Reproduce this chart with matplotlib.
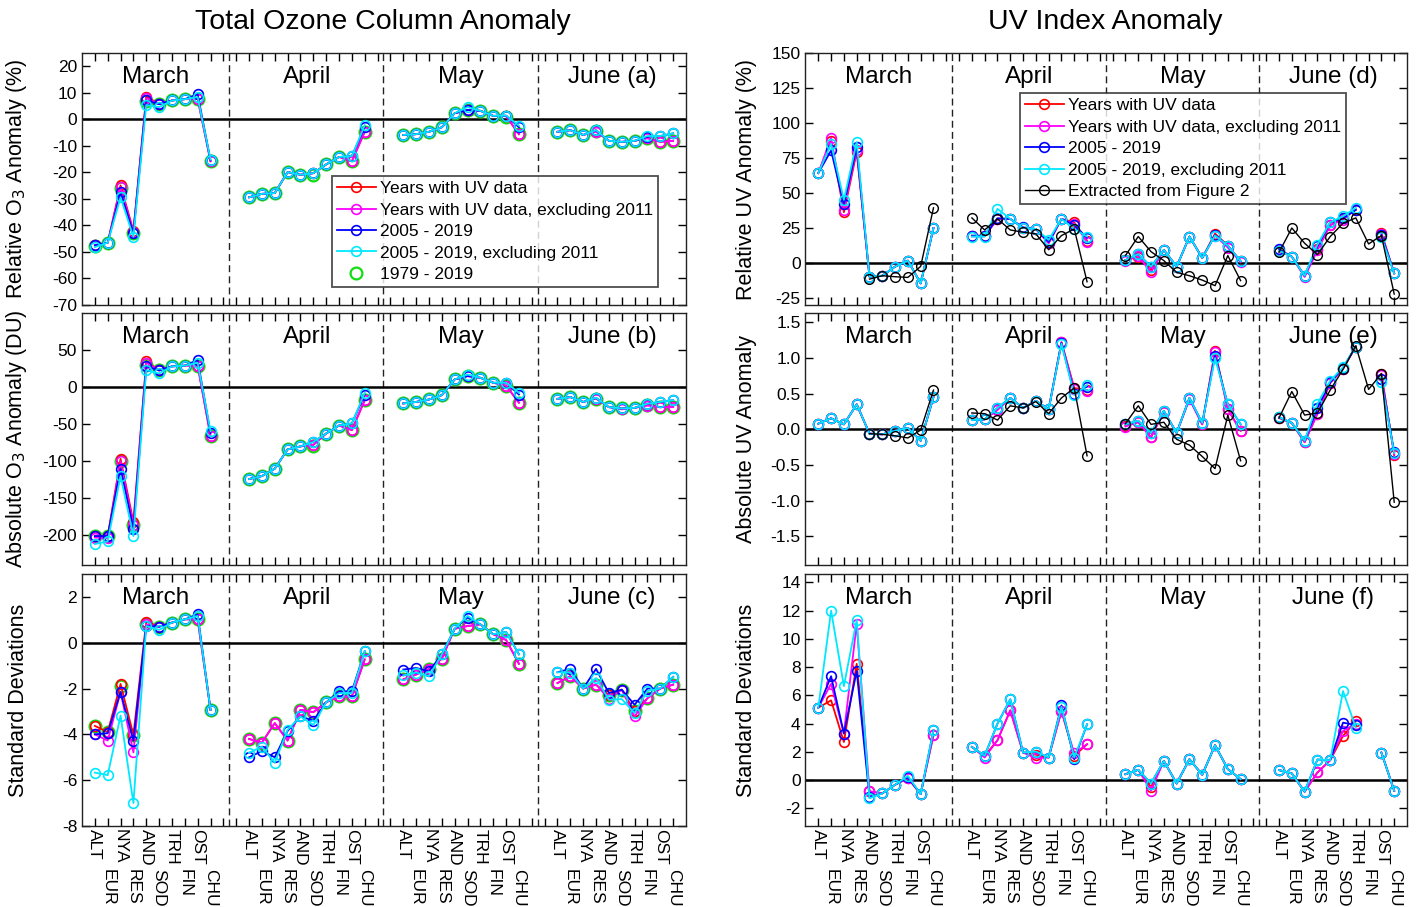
import numpy as np
import matplotlib
matplotlib.use("Agg")
import matplotlib.pyplot as plt
from matplotlib.ticker import FormatStrFormatter, FixedLocator
from matplotlib.lines import Line2D

plt.rcParams['font.family'] = ['Liberation Sans', 'DejaVu Sans']
plt.rcParams['axes.unicode_minus'] = False

nan = np.nan

stations = ["ALT", "EUR", "NYA", "RES", "AND", "SOD", "TRH", "FIN", "OST", "CHU"]
months = ["March", "April", "May", "June"]

legend_oz = ["Years with UV data", "Years with UV data, excluding 2011",
             "2005 - 2019", "2005 - 2019, excluding 2011", "1979 - 2019"]
legend_uv = ["Years with UV data", "Years with UV data, excluding 2011",
             "2005 - 2019", "2005 - 2019, excluding 2011", "Extracted from Figure 2"]

# ---- (a) relative ozone anomaly (%) ----
a_red = [-47.5, -46.5, -24.9, -42.0, 8.6, 5.7, 7.1, 7.6, 7.6, -15.8,
         -29.4, -28.1, -27.8, -19.9, -20.9, -20.3, -17.0, -14.2, -15.8, -4.7,
         -5.9, -5.6, -4.7, -3.0, 2.3, 3.5, 3.2, 1.3, 1.2, -5.6,
         -4.7, -4.1, -5.9, -4.4, -8.1, -8.5, -8.1, -7.0, -8.5, -8.1]
a_mag = [-47.5, -46.5, -25.6, -42.5, 8.0, 5.7, 7.1, 7.6, 7.8, -15.8,
         -29.4, -28.1, -27.8, -19.9, -20.9, -20.3, -17.0, -14.2, -15.8, -4.7,
         -5.9, -5.6, -4.7, -3.0, 2.3, 3.5, 3.2, 1.3, 1.2, -5.6,
         -4.7, -4.1, -5.9, -4.7, -8.1, -8.5, -8.1, -7.2, -8.5, -8.1]
a_blue = [-47.5, -46.5, -27.5, -43.0, 7.1, 5.7, 7.1, 7.6, 9.5, -15.5,
          -29.4, -28.1, -27.8, -19.9, -20.9, -20.3, -17.0, -14.2, -13.9, -3.0,
          -5.9, -5.6, -4.7, -3.0, 2.3, 3.5, 3.2, 1.3, 1.4, -3.0,
          -4.7, -4.1, -5.9, -4.1, -8.1, -8.5, -8.1, -6.6, -6.3, -5.3]
a_cyan = [-48.2, -46.5, -29.4, -44.3, 5.4, 4.6, 7.1, 7.6, 8.4, -15.2,
          -29.4, -28.1, -27.8, -19.9, -20.9, -20.3, -17.0, -14.2, -13.9, -2.2,
          -5.9, -5.6, -4.7, -3.0, 2.3, 4.6, 3.2, 1.3, 1.4, -2.4,
          -4.7, -4.1, -5.9, -4.1, -8.1, -8.5, -8.1, -6.3, -6.3, -5.3]
a_green = [-47.7, -46.5, -26.0, -43.0, 7.0, 5.8, 7.1, 7.6, 7.6, -15.8,
           -29.4, -28.1, -27.8, -19.9, -20.9, -20.9, -17.0, -14.2, -15.8, -4.7,
           -5.9, -5.6, -4.7, -3.0, 2.3, 3.5, 3.2, 1.3, 1.0, -5.6,
           -4.7, -4.1, -5.9, -4.4, -8.1, -8.5, -8.1, -7.0, -8.5, -8.1]

# ---- (b) absolute ozone anomaly (DU) ----
b_red = [-201, -201, -96.8, -182, 35, 22.5, 28, 29, 29, -66,
         -124, -120, -110, -84, -80, -78, -62.6, -51.8, -58, -17.6,
         -22, -20, -16.7, -10.8, 10.4, 14.9, 12.6, 5.9, 2, -21,
         -15.8, -13.5, -20, -15.5, -27, -28.8, -28, -23.5, -27, -27]
b_mag = [-203, -204, -100, -186, 33, 22.5, 28, 29, 29, -66,
         -124, -120, -110, -84, -80, -78, -62.6, -51.8, -58, -17.6,
         -22, -20, -16.7, -10.8, 10.4, 14.9, 12.6, 5.9, 2, -21,
         -15.8, -13.5, -20, -15.5, -27, -30, -28, -25, -27, -27]
b_blue = [-201, -201, -110, -191, 28, 22.5, 28, 29, 36.5, -62,
          -124, -120, -110, -84, -80, -74, -62.6, -51.8, -49, -10,
          -22, -20, -16.7, -10.8, 10.4, 14.9, 12.6, 5.9, 5.9, -10,
          -15.8, -13.5, -20, -14.4, -27, -28.8, -28, -22.5, -20, -17.6]
b_cyan = [-211.7, -208, -120, -201, 23, 18.5, 28, 29, 33, -59.5,
          -124, -120, -110, -84, -80, -74, -62.6, -51.8, -49, -7.7,
          -22, -20, -16.7, -10.8, 10.4, 17, 12.6, 5.9, 5.9, -7.7,
          -15.8, -13.5, -20, -14.4, -27, -28.8, -28, -22.5, -20, -17.6]
b_green = [-201, -201, -100, -186, 30, 22.5, 28, 29, 29, -66,
           -124, -120, -110, -84, -80, -80, -62.6, -51.8, -58, -17.6,
           -22, -20, -16.7, -10.8, 10.4, 14.9, 12.6, 5.9, 2, -21,
           -15.8, -13.5, -20, -15.5, -27, -28.8, -28, -23.5, -27, -27]

# ---- (c) ozone standard deviations ----
c_red = [-3.63, -3.9, -1.8, -4.03, 0.92, 0.70, 0.88, 1.02, 1.02, -2.93,
         -4.2, -4.36, -3.51, -4.27, -2.93, -3.03, -2.6, -2.34, -2.34, -0.73,
         -1.6, -1.39, -1.14, -0.70, 0.61, 0.73, 0.8, 0.37, 0.12, -0.92,
         -1.76, -1.46, -2.0, -1.83, -2.3, -2.05, -3.0, -2.42, -2.0, -1.83]
c_mag = [-4.0, -4.27, -2.15, -4.79, 0.8, 0.70, 0.88, 1.02, 1.02, -2.93,
         -4.2, -4.36, -3.51, -4.27, -2.93, -3.03, -2.6, -2.34, -2.34, -0.73,
         -1.6, -1.39, -1.14, -0.70, 0.61, 0.73, 0.8, 0.37, 0.12, -0.92,
         -1.76, -1.46, -2.0, -1.83, -2.45, -2.05, -3.22, -2.42, -2.0, -1.83]
c_blue = [-4.0, -3.95, -2.15, -4.27, 0.73, 0.70, 0.88, 1.02, 1.24, -2.93,
          -5.0, -4.73, -5.0, -3.85, -3.22, -3.4, -2.6, -2.12, -2.12, -0.37,
          -1.17, -1.1, -1.25, -0.51, 0.61, 1.1, 0.8, 0.37, 0.47, -0.51,
          -1.29, -1.14, -2.0, -1.14, -2.2, -2.05, -2.71, -2.0, -2.0, -1.49]
c_cyan = [-5.67, -5.78, -3.18, -7.0, 0.73, 0.56, 0.88, 1.02, 1.17, -2.93,
          -4.8, -4.54, -5.24, -3.8, -3.22, -3.59, -2.6, -2.2, -2.2, -0.37,
          -1.43, -1.3, -1.46, -0.51, 0.61, 1.17, 0.8, 0.37, 0.47, -0.51,
          -1.29, -1.3, -2.0, -1.54, -2.49, -2.46, -3.07, -2.1, -2.0, -1.49]
c_green = [-3.63, -3.9, -1.9, -4.03, 0.8, 0.70, 0.88, 1.02, 1.02, -2.93,
           -4.2, -4.36, -3.51, -4.27, -2.93, -3.03, -2.6, -2.34, -2.34, -0.73,
           -1.6, -1.39, -1.14, -0.70, 0.61, 0.73, 0.8, 0.37, 0.12, -0.92,
           -1.76, -1.46, -2.0, -1.83, -2.3, -2.05, -3.0, -2.42, -2.0, -1.83]

# ---- (d) relative UV anomaly (%) ----
d_red = [64.2, 87, 36.3, 79.2, -9.8, -9.1, -2.6, 1.7, -14.6, 25,
         19.5, 19.5, 31.5, 31.5, 25, 24.3, 14.5, 31.5, 29, 16,
         2.1, 4.5, -5, 9.3, -2.6, 18.9, 3.6, 21, 12.4, 1.2,
         8.8, 4.5, -9.1, 10, 27, 32, 38, nan, 21.5, -7.4]
d_mag = [64.2, 89.5, 38, 81, -9.8, -9.1, -2.6, 1.7, -14.6, 25,
         19, 19, 31.5, 31.5, 25, 24.3, 14, 31.5, 28, 15.3,
         1.5, 5, -6.7, 9.3, -2.6, 18.9, 3.6, 19.6, 11, 0.5,
         8.8, 4.5, -10, 9, 27, 31, 38.5, nan, 21, -7.4]
d_blue = [64.2, 80.4, 41.8, 82.8, -9.8, -9.1, -2.6, 1.7, -14.6, 25,
          19.5, 19.5, 32, 31.5, 25.5, 24.3, 15, 31.5, 27, 18,
          2.1, 6.4, -2.6, 9.3, -2.6, 18.9, 3.6, 20, 12.4, 1.2,
          10, 4.5, -9.1, 12, 29, 32, 38, nan, 20, -7.4]
d_cyan = [64.2, 85.2, 45.1, 86.4, -9.8, -9.1, -2.6, 1.7, -14.6, 25,
          18.9, 18.9, 38.7, 31.5, 25, 24.3, 16.5, 31.5, 24.3, 18.9,
          2.1, 6.4, -2.6, 9.3, -2.6, 18.9, 3.6, 19.6, 12.4, 1.2,
          8.8, 4.5, -9.1, 13.1, 29.1, 33.4, 39.4, nan, 18.4, -7.4]
d_black = [nan, nan, nan, nan, -11.5, -9.1, -9.8, -10.3, -2.4, 39.4,
           32.2, 23.6, 31.5, 23.6, 22, 20.8, 9.5, 19.6, 24.3, -13.4,
           5.3, 18.9, 8.1, 1.7, -6.7, -9.1, -12.2, -16.2, 5.3, -12.6,
           7.6, 25, 14.1, 6.0, 18.9, 28.4, 32.2, 13.6, 19.6, -22.2]

# ---- (e) absolute UV anomaly ----
e_red = [0.08, 0.155, 0.07, 0.35, -0.06, -0.07, -0.02, 0.02, -0.16, 0.45,
         0.13, 0.14, 0.28, 0.44, 0.30, 0.40, 0.28, 1.22, 0.58, 0.55,
         0.05, 0.10, -0.11, 0.25, -0.05, 0.44, 0.07, 1.10, 0.28, -0.02,
         0.16, 0.09, -0.18, 0.22, 0.65, 0.85, 1.16, nan, 0.78, -0.36]
e_mag = [0.08, 0.155, 0.07, 0.35, -0.06, -0.07, -0.02, 0.02, -0.16, 0.45,
         0.13, 0.14, 0.27, 0.44, 0.30, 0.40, 0.28, 1.22, 0.56, 0.54,
         0.04, 0.10, -0.11, 0.25, -0.05, 0.42, 0.07, 1.08, 0.28, -0.02,
         0.16, 0.09, -0.18, 0.22, 0.65, 0.85, 1.16, nan, 0.76, -0.35]
e_blue = [0.08, 0.155, 0.07, 0.35, -0.06, -0.07, -0.02, 0.02, -0.16, 0.45,
          0.13, 0.14, 0.30, 0.44, 0.30, 0.40, 0.28, 1.21, 0.50, 0.60,
          0.07, 0.12, -0.05, 0.26, -0.05, 0.44, 0.09, 1.03, 0.35, 0.07,
          0.17, 0.09, -0.16, 0.30, 0.66, 0.86, 1.16, nan, 0.70, -0.32]
e_cyan = [0.08, 0.155, 0.07, 0.35, -0.06, -0.07, -0.02, 0.02, -0.16, 0.45,
          0.13, 0.14, 0.30, 0.44, 0.30, 0.40, 0.28, 1.20, 0.48, 0.62,
          0.07, 0.12, -0.05, 0.26, -0.05, 0.44, 0.09, 1.0, 0.35, 0.07,
          0.17, 0.09, -0.16, 0.36, 0.68, 0.87, 1.16, nan, 0.67, -0.33]
e_black = [nan, nan, nan, nan, -0.06, -0.07, -0.09, -0.12, -0.01, 0.55,
           0.23, 0.22, 0.13, 0.33, 0.30, 0.39, 0.22, 0.44, 0.58, -0.37,
           0.08, 0.33, 0.07, 0.10, -0.14, -0.22, -0.38, -0.55, 0.20, -0.44,
           0.16, 0.53, 0.20, 0.23, 0.55, 0.84, 1.17, 0.56, 0.78, -1.02]

# ---- (f) UV standard deviations ----
f_red = [5.13, 5.65, 2.7, 8.24, -0.8, -0.94, -0.33, 0.14, -0.99, 3.2,
         2.35, 1.72, 2.82, 4.94, 1.95, 1.8, 1.6, 4.89, 1.72, 2.54,
         0.42, 0.73, -0.5, 1.36, -0.24, 1.48, 0.38, 2.47, 0.78, 0.07,
         0.71, 0.47, -0.82, 0.54, 1.41, 3.13, 4.19, nan, 1.95, -0.75]
f_mag = [5.13, 6.82, 3.3, 11.06, -0.8, -0.94, -0.33, 0.14, -0.99, 3.2,
         2.35, 1.6, 2.82, 4.94, 1.95, 1.55, 1.6, 4.89, 1.9, 2.54,
         0.42, 0.73, -0.75, 1.36, -0.24, 1.48, 0.38, 2.47, 0.78, 0.07,
         0.71, 0.47, -0.82, 0.54, 1.41, 3.48, 4.0, nan, 1.95, -0.75]
f_blue = [5.13, 7.36, 3.3, 7.72, -1.2, -0.94, -0.33, 0.2, -0.99, 3.53,
          2.35, 1.72, 4.0, 5.72, 1.95, 2.0, 1.6, 5.29, 1.48, 3.95,
          0.42, 0.73, -0.24, 1.36, -0.24, 1.48, 0.38, 2.47, 0.78, 0.07,
          0.71, 0.47, -0.82, 1.46, 1.41, 4.07, 3.9, nan, 1.95, -0.75]
f_cyan = [5.13, 12.0, 6.66, 11.36, -1.29, -0.94, -0.33, 0.3, -0.99, 3.53,
          2.35, 1.72, 4.0, 5.72, 1.95, 2.02, 1.6, 5.2, 1.6, 3.95,
          0.42, 0.73, -0.24, 1.36, -0.24, 1.48, 0.38, 2.47, 0.78, 0.07,
          0.71, 0.47, -0.82, 1.46, 1.41, 6.31, 3.72, nan, 1.95, -0.75]

# x layout: 12 slots per month, stations in slots 1..10
x_pos = [m * 12 + i + 1 for m in range(4) for i in range(10)]
month_centers = [5.75, 17.5, 29.5, 41.25]
separators = [11.45, 23.45, 35.45]

LW = 1.3


def draw_line(ax, x, y, color, lw=LW, ms=7, mew=1.2, zorder=3):
    # break the line at each month so months are not joined
    for m in range(4):
        xs = x[m * 10:(m + 1) * 10]
        ys = y[m * 10:(m + 1) * 10]
        ax.plot(xs, ys, color=color, lw=lw, marker='o', ms=ms, mfc='none',
                mec=color, mew=mew, zorder=zorder)


def draw_panel(ax, series, ylim, yticks, ylabel, tag, label_x, black=None,
               green=None, show_x=False, fmt=None):
    ax.set_xlim(0, 47)
    ax.set_ylim(*ylim)
    ax.axhline(0, color='k', lw=1.8, zorder=2)
    for s in separators:
        ax.axvline(s, color='#222222', lw=1.0, dashes=(5, 3), zorder=1)

    if green is not None:
        ax.plot(x_pos, green, ls='none', marker='o', ms=8.5, mfc='none',
                mec='#11dd11', mew=1.6, zorder=2.5)
    for vals, col in series:
        draw_line(ax, x_pos, vals, col)
    if black is not None:
        draw_line(ax, x_pos, black, 'k', lw=1.0, ms=7, mew=1.0, zorder=4)

    ax.set_yticks(yticks)
    if fmt:
        ax.yaxis.set_major_formatter(FormatStrFormatter(fmt))
    ax.xaxis.set_major_locator(FixedLocator(list(range(1, 47))))
    ax.set_xticklabels([])
    ax.tick_params(axis='both', direction='in', top=True, right=True,
                   length=6, width=1.0, labelsize=12.5)
    for sp in ax.spines.values():
        sp.set_linewidth(1.0)
        sp.set_color('#222222')
    ax.set_ylabel(ylabel, fontsize=15.5)
    ax.yaxis.set_label_coords(label_x, 0.5)

    for i, name in enumerate(months):
        txt = name + (" " + tag if i == 3 else "")
        ax.text(month_centers[i], 0.905, txt, transform=ax.get_xaxis_transform(),
                ha='center', va='center', fontsize=17.5)

    if show_x:
        trans = ax.get_xaxis_transform()
        for k, x in enumerate(x_pos):
            st = stations[k % 10]
            off = -2 if (k % 10) % 2 == 0 else -31
            ax.annotate(st, xy=(x, 0), xycoords=trans, xytext=(0, off),
                        textcoords='offset points', rotation=270,
                        ha='center', va='top', fontsize=12.5)


fig = plt.figure(figsize=(14.18, 9.07), dpi=100)

W, H = 1418.0, 907.0
lefts = [82 / W, 805.5 / W]
widths = [604 / W, 601.5 / W]
tops = [53, 313, 574]
ph = 252

axs = []
for r in range(3):
    row = []
    for c in range(2):
        ax = fig.add_axes([lefts[c], 1 - (tops[r] + ph) / H, widths[c], ph / H])
        row.append(ax)
    axs.append(row)

cols = ['#ff0000', '#ff00ff', '#0000ff', '#00e8ff']
lx_left = -0.088
lx_right = -0.081

draw_panel(axs[0][0], list(zip([a_red, a_mag, a_blue, a_cyan], cols)),
           (-70, 25), list(range(-70, 21, 10)), "Relative O$_3$ Anomaly (%)", "(a)",
           lx_left, green=a_green)
draw_panel(axs[1][0], list(zip([b_red, b_mag, b_blue, b_cyan], cols)),
           (-240, 100), list(range(-200, 51, 50)), "Absolute O$_3$ Anomaly (DU)", "(b)",
           lx_left, green=b_green)
draw_panel(axs[2][0], list(zip([c_red, c_mag, c_blue, c_cyan], cols)),
           (-8, 3), list(range(-8, 3, 2)), "Standard Deviations", "(c)",
           lx_left, green=c_green, show_x=True)
draw_panel(axs[0][1], list(zip([d_red, d_mag, d_blue, d_cyan], cols)),
           (-30, 150), list(range(-25, 151, 25)), "Relative UV Anomaly (%)", "(d)",
           lx_right, black=d_black)
draw_panel(axs[1][1], list(zip([e_red, e_mag, e_blue, e_cyan], cols)),
           (-1.9, 1.63), [-1.5, -1.0, -0.5, 0.0, 0.5, 1.0, 1.5], "Absolute UV Anomaly", "(e)",
           lx_right, black=e_black, fmt='%.1f')
draw_panel(axs[2][1], list(zip([f_red, f_mag, f_blue, f_cyan], cols)),
           (-3.25, 14.6), list(range(-2, 15, 2)), "Standard Deviations", "(f)",
           lx_right, show_x=True)

# legends
h_oz = [Line2D([], [], color=c, lw=LW, marker='o', ms=7, mfc='none', mew=1.2) for c in cols]
h_oz.append(Line2D([], [], ls='none', marker='o', ms=8.5, mfc='none', mec='#11dd11', mew=1.6))
leg = axs[0][0].legend(h_oz, legend_oz, loc='upper right', bbox_to_anchor=(0.954, 0.512),
                       fontsize=12.5, frameon=True, fancybox=False, edgecolor='#222222',
                       labelspacing=0.36, handlelength=2.2, handletextpad=0.25,
                       borderpad=0.3, borderaxespad=0)
leg.get_frame().set_linewidth(1.3)

h_uv = [Line2D([], [], color=c, lw=LW, marker='o', ms=7, mfc='none', mew=1.2) for c in cols]
h_uv.append(Line2D([], [], color='k', lw=1.0, marker='o', ms=7, mfc='none', mew=1.0))
leg2 = axs[0][1].legend(h_uv, legend_uv, loc='upper right', bbox_to_anchor=(0.899, 0.841),
                        fontsize=12.5, frameon=True, fancybox=False, edgecolor='#222222',
                        labelspacing=0.36, handlelength=2.2, handletextpad=0.25,
                        borderpad=0.3, borderaxespad=0)
leg2.get_frame().set_linewidth(1.3)

fig.text(383 / W, 1 - 22 / H, "Total Ozone Column Anomaly", ha='center', va='center', fontsize=20.5)
fig.text(1105 / W, 1 - 22 / H, "UV Index Anomaly", ha='center', va='center', fontsize=20.5)

fig.savefig("out.png", dpi=100)
